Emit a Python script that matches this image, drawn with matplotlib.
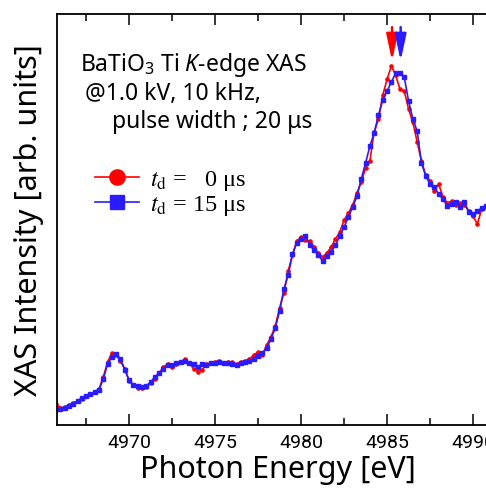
import numpy as np
import matplotlib
matplotlib.use("Agg")
import matplotlib.pyplot as plt
from matplotlib.lines import Line2D

plt.rcParams['font.family'] = ['Noto Sans', 'DejaVu Sans']
plt.rcParams['mathtext.fontset'] = 'custom'
plt.rcParams['mathtext.rm'] = 'Noto Sans'
plt.rcParams['mathtext.it'] = 'Noto Sans:italic'

# energia (eV), paso 0.25
energia = [
    4965.75, 4966.00, 4966.25, 4966.50, 4966.75, 4967.00, 4967.25, 4967.50, 4967.75, 4968.00,
    4968.25, 4968.50, 4968.75, 4969.00, 4969.25, 4969.50, 4969.75, 4970.00, 4970.25, 4970.50,
    4970.75, 4971.00, 4971.25, 4971.50, 4971.75, 4972.00, 4972.25, 4972.50, 4972.75, 4973.00,
    4973.25, 4973.50, 4973.75, 4974.00, 4974.25, 4974.50, 4974.75, 4975.00, 4975.25, 4975.50,
    4975.75, 4976.00, 4976.25, 4976.50, 4976.75, 4977.00, 4977.25, 4977.50, 4977.75, 4978.00,
    4978.25, 4978.50, 4978.75, 4979.00, 4979.25, 4979.50, 4979.75, 4980.00, 4980.25, 4980.50,
    4980.75, 4981.00, 4981.25, 4981.50, 4981.75, 4982.00, 4982.25, 4982.50, 4982.75, 4983.00,
    4983.25, 4983.50, 4983.75, 4984.00, 4984.25, 4984.50, 4984.75, 4985.00, 4985.25, 4985.50,
    4985.75, 4986.00, 4986.25, 4986.50, 4986.75, 4987.00, 4987.25, 4987.50, 4987.75, 4988.00,
    4988.25, 4988.50, 4988.75, 4989.00, 4989.25, 4989.50, 4989.75, 4990.00, 4990.25, 4990.50,
    4990.75,
]

# td = 0 us
int_0us = [
    21, 17, 18, 20, 22, 24, 26, 29, 31, 33,
    36, 48, 63, 72, 70, 64, 56, 44, 40, 37,
    37, 38, 42, 46, 52, 58, 61, 58, 61, 63,
    66, 62, 56, 53, 55, 61, 62, 63, 64, 62,
    63, 63, 61, 63, 64, 66, 70, 73, 70, 80,
    88, 99, 117, 132, 154, 170, 184, 188, 185, 184,
    178, 172, 168, 172, 178, 186, 193, 205, 212, 220,
    232, 243, 257, 264, 293, 306, 330, 346, 359, 350,
    336, 334, 316, 303, 283, 264, 250, 244, 234, 241,
    228, 222, 224, 220, 222, 220, 214, 209, 201, 216,
    218,
]

# td = 15 us
int_15us = [
    16, 16, 17, 19, 21, 24, 27, 29, 31, 33,
    35, 46, 61, 68, 71, 66, 55, 45, 40, 39,
    38, 39, 43, 48, 52, 56, 60, 60, 62, 63,
    64, 62, 61, 58, 61, 60, 62, 62, 63, 62,
    62, 61, 60, 62, 63, 64, 66, 69, 72, 77,
    86, 97, 114, 136, 150, 171, 182, 186, 189, 180,
    175, 170, 164, 169, 173, 180, 189, 198, 208, 218,
    229, 246, 262, 279, 292, 310, 325, 334, 343, 352,
    352, 348, 324, 306, 294, 262, 249, 241, 238, 231,
    226, 219, 221, 223, 218, 223, 213, 211, 214, 217,
    219,
]

picos = [4985.29, 4985.79]
colores = ['#ff0000', '#2a1cff']

fig = plt.figure(figsize=(4.86, 4.89), dpi=100)
ax = fig.add_axes([0.117, 0.129, 0.89, 0.840])

ax.plot(energia, int_0us, '-o', color=colores[0], lw=1.2, ms=2.3, mec=colores[0])
ax.plot(energia, int_15us, '-s', color=colores[1], lw=1.2, ms=2.3, mec=colores[1])

for xp, c in zip(picos, colores):
    ax.annotate('', xy=(xp, 364), xytext=(xp, 398),
                arrowprops=dict(arrowstyle='-|>,head_length=0.8,head_width=0.17',
                                color=c, lw=1.8, mutation_scale=20,
                                shrinkA=0, shrinkB=0))

ax.set_xlim(4965.8, 4990.95)
ax.set_ylim(0, 411)
ax.set_xticks([4970, 4975, 4980, 4985, 4990])
ax.set_xticks([4967.5, 4972.5, 4977.5, 4982.5, 4987.5], minor=True)
ax.set_yticks([])
ax.tick_params(axis='x', which='both', direction='in', top=True, width=1.1)
ax.tick_params(axis='x', which='major', length=8, labelsize=14, pad=6)
ax.tick_params(axis='x', which='minor', length=5)
for lab in ax.get_xticklabels():
    lab.set_family('Roboto')
for s in ax.spines.values():
    s.set_linewidth(1.3)

ax.set_xlabel('Photon Energy [eV]', fontsize=22, labelpad=3)
ax.set_ylabel('XAS Intensity [arb. units]', fontsize=22, labelpad=9)
ax.xaxis.set_label_coords(0.512, -0.072)

fig.text(80 / 486, 1 - 71 / 489, r'BaTiO$_3$ Ti $K$-edge XAS', fontsize=16.5, va='baseline')
fig.text(85 / 486, 1 - 100 / 489, '@1.0 kV, 10 kHz,', fontsize=16.5, va='baseline')
fig.text(112 / 486, 1 - 128 / 489, 'pulse width ; 20 μs', fontsize=16.5, va='baseline')

handles = [
    Line2D([], [], color=colores[0], marker='o', ms=11, lw=1.2),
    Line2D([], [], color=colores[1], marker='s', ms=10, lw=1.2),
]
etiquetas = [r'$t_{\rm d}$ =   0 μs', r'$t_{\rm d}$ = 15 μs']
leg = ax.legend(handles, etiquetas, loc='upper left', bbox_to_anchor=(0.088, 0.625),
                frameon=False, handlelength=1.8, handletextpad=0.45, labelspacing=0.05,
                borderaxespad=0, borderpad=0,
                prop={'family': 'Liberation Serif', 'size': 17.5})
for t in leg.get_texts():
    t.set_math_fontfamily('stix')

fig.savefig('out.png', dpi=100)
